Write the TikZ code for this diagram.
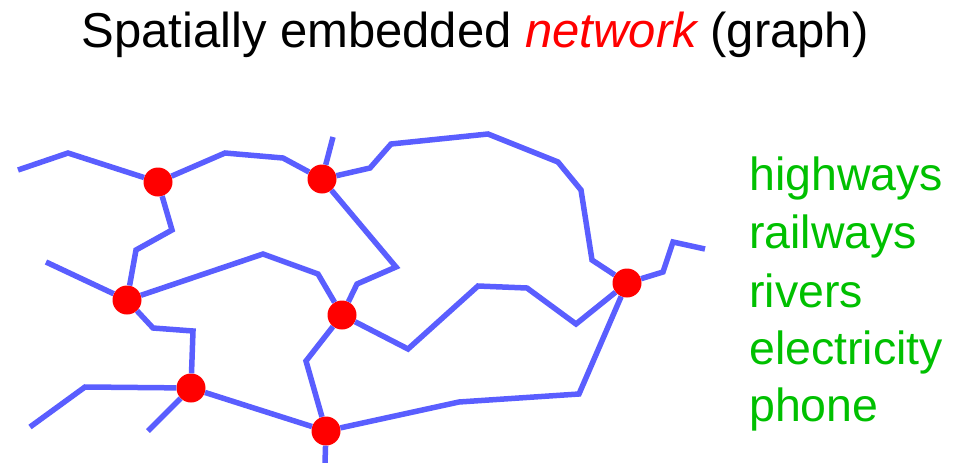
\documentclass[tikz,border=0pt]{standalone}
\usepackage{fontspec}
\setmainfont{Liberation Sans}
\usetikzlibrary{positioning}

\definecolor{netblue}{RGB}{90,94,255}
\definecolor{listgreen}{RGB}{0,192,0}

\begin{document}
\begin{tikzpicture}[x=1pt, y=-1pt,
  dot/.style={circle, fill=red, minimum size=29pt, inner sep=0pt},
  road/.style={netblue, line width=5.5pt, line join=miter},
  item/.style={anchor=base west, text=listgreen, font=\fontsize{46.5}{50}\selectfont, inner sep=0pt}]
\useasboundingbox (0,0) rectangle (972,463);
\node[anchor=base, font=\fontsize{49}{52}\selectfont, inner sep=0pt] (title) at (475,47)
  {Spatially embedded \textcolor{red}{\itshape network} (graph)};
% junctions
\node[dot] (a) at (158,182) {};
\node[dot] (b) at (322,179) {};
\node[dot] (c) at (127,300) {};
\node[dot] (d) at (342,315) {};
\node[dot] (e) at (627,283) {};
\node[dot] (f) at (191,388) {};
\node[dot] (g) at (326,431) {};
% loose ends
\coordinate (w1) at (18,170);
\coordinate (w2) at (46,262);
\coordinate (w3) at (30,427);
\coordinate (w4) at (148,431);
\coordinate (n1) at (333,137);
\coordinate (e1) at (705,249);
\coordinate (s1) at (325,463);
% roads
\draw[road] (w1) -- (68,153) -- (a);
\draw[road] (a) -- (225,153) -- (283,158) -- (b);
\draw[road] (b) -- (n1);
\draw[road] (b) -- (370,168) -- (391,144) -- (488,134) -- (558,162) -- (581,190) -- (592,260) -- (e);
\draw[road] (e) -- (663,272) -- (673,242) -- (e1);
\draw[road] (b) -- (396,267) -- (357,284) -- (d);
\draw[road] (a) -- (172,230) -- (136,250) -- (c);
\draw[road] (w2) -- (c);
\draw[road] (c) -- (263,254) -- (318,274) -- (d);
\draw[road] (d) -- (408,349) -- (478,286) -- (527,288) -- (576,324) -- (e);
\draw[road] (e) -- (579,394) -- (459,402) -- (g);
\draw[road] (d) -- (306,361) -- (g);
\draw[road] (g) -- (s1);
\draw[road] (c) -- (153,328) -- (193,331) -- (f);
\draw[road] (w3) -- (85,387) -- (f);
\draw[road] (f) -- (w4);
\draw[road] (f) -- (g);
% what such a network can be
\node[item] (hw) at (749,190) {highways};
\node[item] (rw) at (749,248) {railways};
\node[item] (rv) at (749,307) {rivers};
\node[item] (el) at (749,364) {electricity};
\node[item] (ph) at (749,421) {phone};
\end{tikzpicture}
\end{document}
